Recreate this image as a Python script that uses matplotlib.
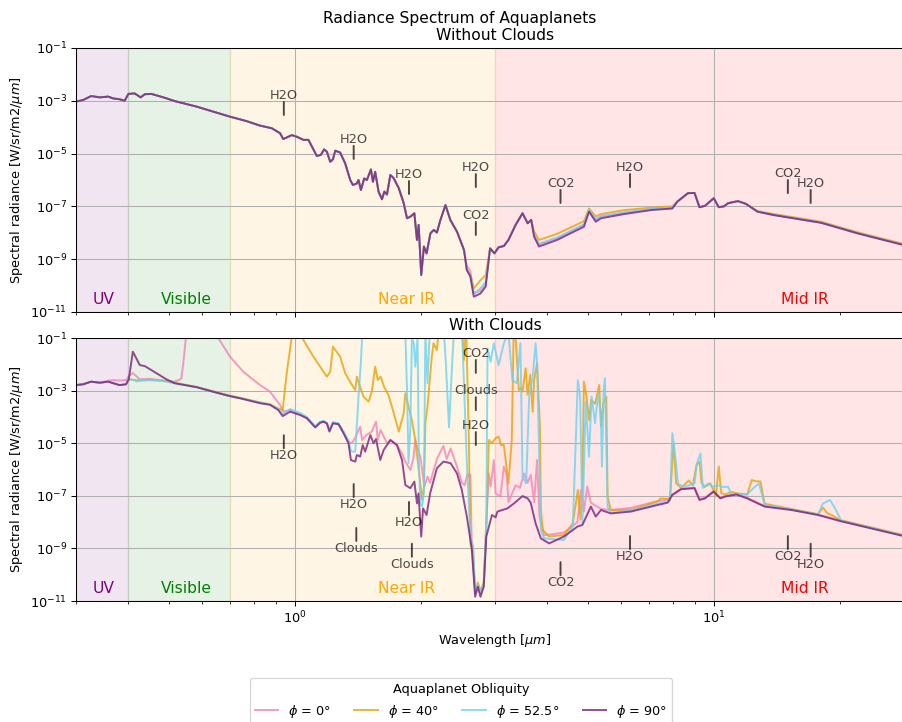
import numpy as np
import matplotlib.pyplot as plt

# (wavelength [um], log10 spectral radiance [W/sr/m2/um])
clear_phi0 = [
    (0.300, -3.03), (0.312, -2.97), (0.326, -2.82), (0.342, -2.87), (0.358, -2.84), (0.368, -2.91), (0.381, -2.94), (0.392, -3.00), (0.400, -2.74), (0.414, -2.72),
    (0.428, -2.87), (0.438, -2.75), (0.454, -2.74), (0.485, -2.87), (0.516, -3.01), (0.582, -3.22), (0.650, -3.45), (0.699, -3.60), (0.766, -3.77), (0.825, -3.94),
    (0.880, -4.04), (0.921, -4.23), (0.937, -4.45), (0.982, -4.30), (1.009, -4.36), (1.047, -4.48), (1.076, -4.48), (1.127, -5.09), (1.152, -5.05), (1.173, -4.84),
    (1.191, -4.93), (1.213, -5.31), (1.231, -5.22), (1.247, -4.89), (1.281, -4.96), (1.317, -5.37), (1.354, -6.00), (1.374, -6.19), (1.404, -6.13), (1.417, -6.00),
    (1.436, -6.38), (1.462, -5.94), (1.484, -6.00), (1.517, -5.60), (1.534, -6.07), (1.553, -5.69), (1.582, -6.44), (1.612, -6.73), (1.633, -6.44), (1.657, -6.55),
    (1.688, -5.81), (1.719, -5.93), (1.768, -6.31), (1.816, -6.82), (1.850, -7.45), (1.884, -7.39), (1.926, -7.26), (1.954, -8.27), (1.972, -7.70), (2.000, -9.60),
    (2.030, -8.52), (2.060, -8.78), (2.104, -8.02), (2.143, -7.89), (2.180, -7.99), (2.222, -7.52), (2.285, -6.95), (2.348, -7.52), (2.435, -7.96), (2.530, -8.65),
    (2.570, -9.25), (2.620, -9.45), (2.670, -10.30), (2.770, -10.20), (2.850, -9.95), (2.920, -8.59), (2.990, -8.78), (3.060, -8.55), (3.150, -8.50), (3.230, -8.27),
    (3.360, -7.70), (3.490, -7.26), (3.590, -7.64), (3.660, -7.51), (3.720, -8.08), (3.820, -8.44), (4.220, -8.20), (4.890, -7.70), (5.030, -7.15), (5.220, -7.50),
    (5.370, -7.38), (6.100, -7.24), (7.070, -7.10), (7.950, -7.05), (8.170, -6.82), (8.660, -6.50), (8.980, -6.49), (9.230, -7.03), (9.510, -6.98), (9.980, -6.69),
    (10.26, -7.03), (10.55, -7.00), (10.80, -6.88), (11.40, -6.80), (11.90, -6.90), (12.70, -7.20), (13.90, -7.33), (18.00, -7.62), (22.00, -8.02), (28.30, -8.46),
    (30.00, -8.56),
]
clear_phi40 = [
    (0.300, -3.03), (0.312, -2.97), (0.326, -2.82), (0.342, -2.87), (0.358, -2.84), (0.368, -2.91), (0.381, -2.94), (0.392, -3.00), (0.400, -2.74), (0.414, -2.72),
    (0.428, -2.87), (0.438, -2.75), (0.454, -2.74), (0.485, -2.87), (0.516, -3.01), (0.582, -3.22), (0.650, -3.45), (0.699, -3.60), (0.766, -3.77), (0.825, -3.94),
    (0.880, -4.04), (0.921, -4.23), (0.937, -4.45), (0.982, -4.30), (1.009, -4.36), (1.047, -4.48), (1.076, -4.48), (1.127, -5.09), (1.152, -5.05), (1.173, -4.84),
    (1.191, -4.93), (1.213, -5.31), (1.231, -5.22), (1.247, -4.89), (1.281, -4.96), (1.317, -5.37), (1.354, -6.00), (1.374, -6.19), (1.404, -6.13), (1.417, -6.00),
    (1.436, -6.38), (1.462, -5.94), (1.484, -6.00), (1.517, -5.60), (1.534, -6.07), (1.553, -5.69), (1.582, -6.44), (1.612, -6.73), (1.633, -6.44), (1.657, -6.55),
    (1.688, -5.81), (1.719, -5.93), (1.768, -6.31), (1.816, -6.88), (1.850, -7.45), (1.884, -7.39), (1.926, -7.26), (1.954, -8.27), (1.972, -7.70), (2.000, -9.60),
    (2.030, -8.52), (2.060, -8.78), (2.104, -8.02), (2.143, -7.89), (2.180, -7.99), (2.222, -7.52), (2.285, -6.95), (2.348, -7.52), (2.435, -7.96), (2.530, -8.65),
    (2.570, -9.41), (2.620, -9.60), (2.670, -10.10), (2.770, -9.80), (2.850, -9.60), (2.920, -8.59), (2.990, -8.78), (3.060, -8.55), (3.150, -8.50), (3.230, -8.27),
    (3.360, -7.70), (3.490, -7.26), (3.590, -7.64), (3.660, -7.51), (3.720, -7.95), (3.820, -8.27), (4.220, -8.04), (4.890, -7.56), (5.030, -7.08), (5.220, -7.38),
    (5.370, -7.29), (6.100, -7.14), (7.070, -7.05), (7.950, -7.00), (8.170, -6.82), (8.660, -6.50), (8.980, -6.49), (9.230, -7.03), (9.510, -6.98), (9.980, -6.69),
    (10.26, -7.03), (10.55, -7.00), (10.80, -6.88), (11.40, -6.80), (11.90, -6.90), (12.70, -7.18), (13.90, -7.29), (18.00, -7.58), (22.00, -7.98), (28.30, -8.42),
    (30.00, -8.52),
]
clear_phi525 = [
    (0.300, -3.03), (0.312, -2.97), (0.326, -2.82), (0.342, -2.87), (0.358, -2.84), (0.368, -2.91), (0.381, -2.94), (0.392, -3.00), (0.400, -2.74), (0.414, -2.72),
    (0.428, -2.87), (0.438, -2.75), (0.454, -2.74), (0.485, -2.87), (0.516, -3.01), (0.582, -3.22), (0.650, -3.45), (0.699, -3.60), (0.766, -3.77), (0.825, -3.94),
    (0.880, -4.04), (0.921, -4.23), (0.937, -4.45), (0.982, -4.30), (1.009, -4.36), (1.047, -4.48), (1.076, -4.48), (1.127, -5.09), (1.152, -5.05), (1.173, -4.84),
    (1.191, -4.93), (1.213, -5.31), (1.231, -5.22), (1.247, -4.89), (1.281, -4.96), (1.317, -5.37), (1.354, -6.00), (1.374, -6.19), (1.404, -6.13), (1.417, -6.00),
    (1.436, -6.38), (1.462, -5.94), (1.484, -6.00), (1.517, -5.60), (1.534, -6.07), (1.553, -5.69), (1.582, -6.44), (1.612, -6.73), (1.633, -6.44), (1.657, -6.55),
    (1.688, -5.81), (1.719, -5.93), (1.768, -6.31), (1.816, -6.88), (1.850, -7.45), (1.884, -7.39), (1.926, -7.26), (1.954, -8.27), (1.972, -7.70), (2.000, -9.60),
    (2.030, -8.52), (2.060, -8.78), (2.104, -8.02), (2.143, -7.89), (2.180, -7.99), (2.222, -7.52), (2.285, -6.95), (2.348, -7.52), (2.435, -7.96), (2.530, -8.65),
    (2.570, -9.41), (2.620, -9.62), (2.670, -10.30), (2.770, -10.10), (2.850, -9.85), (2.920, -8.59), (2.990, -8.78), (3.060, -8.55), (3.150, -8.50), (3.230, -8.27),
    (3.360, -7.70), (3.490, -7.26), (3.590, -7.64), (3.660, -7.51), (3.720, -8.08), (3.820, -8.42), (4.220, -8.18), (4.890, -7.68), (5.030, -7.13), (5.220, -7.50),
    (5.370, -7.37), (6.100, -7.23), (7.070, -7.10), (7.950, -7.04), (8.170, -6.82), (8.660, -6.50), (8.980, -6.49), (9.230, -7.03), (9.510, -6.98), (9.980, -6.69),
    (10.26, -7.03), (10.55, -7.00), (10.80, -6.88), (11.40, -6.80), (11.90, -6.90), (12.70, -7.20), (13.90, -7.32), (18.00, -7.61), (22.00, -8.01), (28.30, -8.45),
    (30.00, -8.55),
]
clear_phi90 = [
    (0.300, -3.03), (0.312, -2.97), (0.326, -2.82), (0.342, -2.87), (0.358, -2.84), (0.368, -2.91), (0.381, -2.94), (0.392, -3.00), (0.400, -2.74), (0.414, -2.72),
    (0.428, -2.87), (0.438, -2.75), (0.454, -2.74), (0.485, -2.87), (0.516, -3.01), (0.582, -3.22), (0.650, -3.45), (0.699, -3.60), (0.766, -3.77), (0.825, -3.94),
    (0.880, -4.04), (0.921, -4.23), (0.937, -4.45), (0.982, -4.30), (1.009, -4.36), (1.047, -4.48), (1.076, -4.48), (1.127, -5.09), (1.152, -5.05), (1.173, -4.84),
    (1.191, -4.93), (1.213, -5.31), (1.231, -5.22), (1.247, -4.89), (1.281, -4.96), (1.317, -5.37), (1.354, -6.00), (1.374, -6.19), (1.404, -6.13), (1.417, -6.00),
    (1.436, -6.38), (1.462, -5.94), (1.484, -6.00), (1.517, -5.60), (1.534, -6.07), (1.553, -5.69), (1.582, -6.44), (1.612, -6.73), (1.633, -6.44), (1.657, -6.55),
    (1.688, -5.81), (1.719, -5.93), (1.768, -6.31), (1.816, -6.88), (1.850, -7.45), (1.884, -7.39), (1.926, -7.26), (1.954, -8.27), (1.972, -7.70), (2.000, -9.60),
    (2.030, -8.52), (2.060, -8.78), (2.104, -8.02), (2.143, -7.89), (2.180, -7.99), (2.222, -7.52), (2.285, -6.95), (2.348, -7.52), (2.435, -7.96), (2.530, -8.65),
    (2.570, -9.41), (2.620, -9.66), (2.670, -10.42), (2.770, -10.30), (2.850, -10.04), (2.920, -8.59), (2.990, -8.78), (3.060, -8.55), (3.150, -8.50), (3.230, -8.27),
    (3.360, -7.70), (3.490, -7.26), (3.590, -7.64), (3.660, -7.51), (3.720, -8.15), (3.820, -8.52), (4.220, -8.27), (4.890, -7.77), (5.030, -7.20), (5.220, -7.58),
    (5.370, -7.45), (6.100, -7.29), (7.070, -7.14), (7.950, -7.08), (8.170, -6.82), (8.660, -6.50), (8.980, -6.49), (9.230, -7.03), (9.510, -6.98), (9.980, -6.69),
    (10.26, -7.03), (10.55, -7.00), (10.80, -6.88), (11.40, -6.80), (11.90, -6.90), (12.70, -7.20), (13.90, -7.33), (18.00, -7.62), (22.00, -8.02), (28.30, -8.46),
    (30.00, -8.56),
]

cloud_phi0 = [
    (0.300, -2.79), (0.312, -2.76), (0.326, -2.66), (0.342, -2.70), (0.358, -2.62), (0.370, -2.60), (0.381, -2.62), (0.395, -2.60), (0.401, -2.45), (0.410, -2.33),
    (0.426, -2.57), (0.450, -2.55), (0.485, -2.62), (0.516, -2.66), (0.535, -2.55), (0.541, -1.96), (0.548, -1.08), (0.570, 0.00), (0.640, 0.00), (0.650, -0.90),
    (0.699, -1.71), (0.752, -2.28), (0.825, -2.79), (0.871, -3.04), (0.921, -3.55), (0.937, -3.80), (0.973, -3.74), (1.028, -3.90), (1.067, -4.05), (1.117, -4.38),
    (1.148, -4.22), (1.169, -4.18), (1.191, -4.25), (1.208, -4.50), (1.231, -4.24), (1.270, -4.28), (1.305, -4.60), (1.341, -4.95), (1.366, -5.00), (1.390, -4.81),
    (1.430, -4.37), (1.445, -4.88), (1.480, -4.69), (1.524, -4.56), (1.560, -4.18), (1.575, -4.88), (1.600, -4.50), (1.657, -5.00), (1.688, -4.88), (1.750, -5.07),
    (1.800, -5.39), (1.833, -5.70), (1.884, -6.02), (1.915, -5.58), (1.936, -4.88), (1.960, -5.20), (1.990, -5.51), (2.035, -6.65), (2.070, -6.27), (2.100, -6.50),
    (2.180, -5.60), (2.260, -5.10), (2.300, -5.60), (2.350, -5.20), (2.435, -5.90), (2.500, -6.50), (2.540, -6.60), (2.580, -6.15), (2.600, -6.27), (2.620, -6.20),
    (2.640, -8.80), (2.690, -10.70), (2.730, -10.40), (2.770, -10.70), (2.820, -10.40), (2.860, -8.00), (2.900, -6.15), (2.930, -6.65), (2.980, -5.64), (3.010, -6.91),
    (3.090, -7.03), (3.150, -5.89), (3.200, -6.20), (3.230, -7.24), (3.360, -6.60), (3.440, -6.70), (3.520, -6.15), (3.590, -6.50), (3.650, -6.20), (3.720, -7.24),
    (3.780, -5.64), (3.830, -7.80), (3.930, -8.50), (4.380, -8.40), (4.720, -8.00), (4.810, -6.78), (4.890, -7.60), (4.980, -6.65), (5.080, -7.26), (5.370, -7.50),
    (5.670, -7.54), (6.330, -7.46), (7.330, -7.20), (7.750, -7.15), (7.950, -6.95), (8.340, -6.73), (8.980, -6.69), (9.230, -7.12), (9.510, -7.07), (9.980, -6.82),
    (10.35, -7.08), (10.62, -7.01), (11.30, -6.93), (12.00, -7.08), (13.20, -7.39), (15.30, -7.52), (17.70, -7.71), (20.10, -7.95), (28.30, -8.51), (30.00, -8.60),
]
cloud_phi40 = [
    (0.300, -2.79), (0.312, -2.76), (0.326, -2.66), (0.342, -2.70), (0.358, -2.66), (0.370, -2.73), (0.381, -2.79), (0.395, -2.76), (0.401, -2.57), (0.410, -2.59),
    (0.426, -2.62), (0.450, -2.60), (0.485, -2.62), (0.516, -2.70), (0.582, -2.86), (0.650, -3.06), (0.699, -3.19), (0.738, -3.27), (0.825, -3.45), (0.871, -3.52),
    (0.912, -3.68), (0.934, -3.74), (0.955, -2.34), (0.985, -0.80), (1.020, 0.00), (1.047, -1.08), (1.106, -1.71), (1.169, -2.28), (1.191, -2.47), (1.213, -2.28),
    (1.231, -1.33), (1.281, -1.71), (1.317, -2.34), (1.359, -2.72), (1.392, -2.98), (1.404, -2.47), (1.430, -2.85), (1.456, -3.23), (1.498, -3.42), (1.524, -3.04),
    (1.553, -2.09), (1.575, -2.60), (1.600, -2.47), (1.630, -2.85), (1.670, -3.16), (1.720, -3.86), (1.768, -4.56), (1.816, -3.86), (1.833, -3.10), (1.865, -3.61),
    (1.900, -4.12), (1.936, -4.88), (1.965, -5.76), (1.990, -6.53), (2.010, -7.16), (2.030, -6.65), (2.046, -4.24), (2.070, -3.61), (2.090, -2.85), (2.120, -1.71),
    (2.140, -1.20), (2.180, -1.46), (2.200, -0.80), (2.300, 0.00), (2.500, -0.50), (2.530, -1.84), (2.560, -0.50), (2.600, -5.00), (2.620, -8.81), (2.660, -9.20),
    (2.690, -10.60), (2.730, -10.30), (2.770, -10.60), (2.820, -10.30), (2.860, -8.30), (2.900, -4.88), (2.950, -5.00), (3.010, -4.81), (3.060, -4.75), (3.100, -5.07),
    (3.150, -5.07), (3.230, -6.53), (3.290, -4.88), (3.330, 0.00), (3.390, -1.96), (3.420, -2.98), (3.460, -2.90), (3.490, -3.04), (3.550, -2.15), (3.590, -3.16),
    (3.640, -2.40), (3.690, -3.80), (3.720, -2.60), (3.780, -1.96), (3.840, -4.37), (3.860, -7.54), (3.900, -8.30), (4.040, -8.55), (4.380, -8.49), (4.600, -8.05),
    (4.730, -6.78), (4.800, -7.90), (4.850, -6.70), (4.890, -2.66), (4.960, -3.23), (5.030, -4.12), (5.090, -3.36), (5.200, -3.50), (5.320, -2.79), (5.370, -4.37),
    (5.440, -3.48), (5.530, -3.23), (5.570, -7.03), (5.670, -7.54), (6.330, -7.54), (7.330, -7.22), (7.450, -7.10), (7.850, -7.12), (8.000, -5.00), (8.120, -6.53),
    (8.340, -6.70), (8.700, -6.42), (8.900, -6.60), (9.080, -5.83), (9.230, -5.70), (9.330, -6.50), (9.500, -6.66), (9.800, -6.53), (10.10, -7.00), (10.26, -5.89),
    (10.40, -6.90), (10.62, -6.95), (11.00, -6.85), (11.30, -6.90), (12.00, -6.95), (12.30, -6.40), (12.60, -6.45), (12.90, -6.45), (13.20, -7.30), (15.30, -7.50),
    (17.70, -7.70), (18.20, -7.45), (18.60, -7.65), (20.10, -7.93), (28.30, -8.49), (30.00, -8.58),
]
cloud_phi525 = [
    (0.300, -2.79), (0.312, -2.76), (0.326, -2.66), (0.342, -2.70), (0.358, -2.66), (0.370, -2.73), (0.381, -2.79), (0.395, -2.76), (0.401, -2.57), (0.410, -2.59),
    (0.420, -2.65), (0.426, -2.60), (0.450, -2.60), (0.485, -2.64), (0.516, -2.72), (0.582, -2.87), (0.650, -3.08), (0.699, -3.21), (0.738, -3.29), (0.825, -3.46),
    (0.871, -3.52), (0.912, -3.70), (0.934, -3.90), (0.973, -3.70), (1.028, -3.85), (1.067, -4.00), (1.117, -4.35), (1.148, -4.18), (1.169, -4.15), (1.191, -4.22),
    (1.208, -4.50), (1.231, -4.20), (1.270, -4.24), (1.305, -4.55), (1.341, -4.90), (1.360, -5.32), (1.392, -5.32), (1.417, -3.23), (1.436, -1.90), (1.450, -0.50),
    (1.830, -0.50), (1.850, -2.98), (1.865, -5.76), (1.884, -4.40), (1.900, -1.00), (1.920, -1.20), (1.936, -2.09), (1.960, -1.00), (1.975, -5.76), (1.990, -7.29),
    (2.010, -7.40), (2.030, -6.91), (2.046, -0.80), (2.070, -2.72), (2.100, -0.50), (2.260, -0.50), (2.290, -1.95), (2.330, -4.40), (2.370, -2.00), (2.400, -0.50),
    (2.500, -0.50), (2.570, -5.76), (2.620, -8.55), (2.660, -8.90), (2.690, -10.70), (2.730, -10.35), (2.770, -10.70), (2.820, -10.35), (2.860, -8.00), (2.880, -1.40),
    (2.930, -1.90), (2.980, -1.20), (3.060, -2.03), (3.150, -1.20), (3.230, -0.80), (3.300, -2.60), (3.380, -2.72), (3.450, -1.20), (3.490, -6.27), (3.560, -6.53),
    (3.620, -3.23), (3.690, -2.47), (3.750, -1.20), (3.780, -1.96), (3.860, -8.30), (3.930, -8.62), (4.380, -8.68), (4.600, -8.17), (4.730, -2.60), (4.790, -3.23),
    (4.850, -8.05), (4.940, -3.42), (5.030, -5.51), (5.100, -3.23), (5.200, -4.24), (5.290, -3.10), (5.370, -3.99), (5.400, -5.89), (5.450, -2.98), (5.490, -2.53),
    (5.570, -7.41), (5.670, -7.64), (6.330, -7.57), (7.330, -7.30), (7.850, -7.20), (7.950, -4.62), (8.050, -5.26), (8.200, -6.53), (8.450, -6.66), (8.700, -6.60),
    (8.980, -6.53), (9.100, -5.77), (9.280, -5.39), (9.400, -6.70), (9.700, -6.53), (9.900, -6.66), (10.20, -6.60), (10.50, -6.66), (10.80, -6.66), (11.00, -6.95),
    (12.00, -6.95), (12.50, -6.66), (12.80, -6.53), (13.20, -7.35), (15.30, -7.52), (17.70, -7.71), (18.20, -7.29), (18.90, -7.16), (19.40, -7.45), (19.90, -7.79),
    (20.10, -7.95), (28.30, -8.51), (30.00, -8.60),
]
cloud_phi90 = [
    (0.300, -2.79), (0.312, -2.76), (0.326, -2.66), (0.342, -2.70), (0.358, -2.66), (0.370, -2.73), (0.381, -2.79), (0.395, -2.76), (0.401, -2.57), (0.410, -1.52),
    (0.426, -2.03), (0.438, -2.07), (0.467, -2.34), (0.493, -2.57), (0.516, -2.72), (0.582, -2.87), (0.650, -3.08), (0.699, -3.21), (0.738, -3.29), (0.825, -3.48),
    (0.871, -3.54), (0.912, -3.74), (0.934, -3.97), (0.973, -3.80), (1.028, -3.93), (1.067, -4.05), (1.117, -4.40), (1.148, -4.22), (1.169, -4.18), (1.191, -4.25),
    (1.208, -4.56), (1.231, -4.24), (1.270, -4.28), (1.305, -4.62), (1.341, -5.00), (1.359, -5.64), (1.392, -5.70), (1.404, -5.45), (1.430, -5.51), (1.450, -5.07),
    (1.470, -5.32), (1.512, -4.69), (1.539, -5.00), (1.560, -4.84), (1.597, -5.64), (1.627, -5.26), (1.657, -5.07), (1.688, -4.88), (1.750, -5.07), (1.800, -5.64),
    (1.833, -6.59), (1.884, -6.71), (1.926, -6.46), (1.954, -7.29), (1.970, -6.91), (2.000, -8.55), (2.020, -7.48), (2.060, -7.73), (2.100, -6.91), (2.180, -5.95),
    (2.260, -5.70), (2.350, -5.76), (2.435, -6.15), (2.500, -6.78), (2.570, -7.79), (2.640, -9.00), (2.690, -10.84), (2.730, -10.46), (2.770, -10.84), (2.820, -10.46),
    (2.860, -8.55), (2.950, -7.73), (3.010, -7.82), (3.040, -7.60), (3.210, -7.48), (3.330, -7.29), (3.490, -7.01), (3.590, -7.10), (3.650, -7.26), (3.750, -8.05),
    (3.860, -8.62), (4.040, -8.81), (4.380, -8.55), (4.720, -8.17), (4.850, -8.11), (5.080, -7.41), (5.220, -7.79), (5.370, -7.54), (5.670, -7.67), (6.330, -7.60),
    (7.330, -7.35), (7.750, -7.26), (7.950, -6.97), (8.340, -6.75), (8.980, -6.71), (9.230, -7.16), (9.510, -7.10), (9.980, -6.84), (10.35, -7.10), (10.62, -7.03),
    (11.30, -6.95), (12.00, -7.10), (13.20, -7.41), (15.30, -7.54), (17.70, -7.73), (20.10, -7.97), (28.30, -8.53), (30.00, -8.62),
]

series_labels = ['$\\phi$ = 0°', '$\\phi$ = 40°', '$\\phi$ = 52.5°', '$\\phi$ = 90°']
series_colors = ['#f582b5', '#eca100', '#69d3f5', '#7c1e7c']

band_names = ['UV', 'Visible', 'Near IR', 'Mid IR']
band_edges = [(0.3, 0.4), (0.4, 0.7), (0.7, 3.0), (3.0, 30.0)]
band_colors = ['purple', 'green', 'orange', 'red']

# absorber labels: text, wavelength, radiance at the end of the tick
clear_feat_text = ['H2O', 'H2O', 'H2O', 'H2O', 'CO2', 'CO2', 'H2O', 'CO2', 'H2O']
clear_feat_wl = [0.94, 1.38, 1.87, 2.7, 2.7, 4.3, 6.3, 15, 17]
clear_feat_y = [2.9e-4, 6.3e-6, 2.95e-7, 5.4e-7, 8.3e-9, 1.35e-7, 5.4e-7, 3.2e-7, 1.35e-7]

cloud_up_text = ['CO2', 'Clouds', 'H2O']
cloud_up_wl = [2.7, 2.7, 2.7]
cloud_up_y = [4.7e-3, 1.8e-4, 8.5e-6]
cloud_down_text = ['H2O', 'H2O', 'Clouds', 'H2O', 'Clouds', 'CO2', 'H2O', 'CO2', 'H2O']
cloud_down_wl = [0.94, 1.38, 1.4, 1.87, 1.9, 4.3, 6.3, 15, 17]
cloud_down_y = [2.0e-5, 2.8e-7, 6.0e-9, 5.8e-8, 1.5e-9, 3.0e-10, 2.95e-9, 2.95e-9, 1.5e-9]

DPI = 93
fig = plt.figure(figsize=(902 / DPI, 722 / DPI), dpi=DPI)
ax1 = fig.add_axes([76 / 902, 1 - 312 / 722, 838 / 902, 264 / 722])
ax2 = fig.add_axes([76 / 902, 1 - 601 / 722, 838 / 902, 263 / 722], sharex=ax1)


def draw(ax, series):
    for (lo, hi), name, c in zip(band_edges, band_names, band_colors):
        ax.axvspan(lo, hi, color=c, alpha=0.1)
        ax.text((lo + hi) / 2, 2e-11, name, color=c, ha='center', fontsize=12)
    for pts, lab, c in zip(series, series_labels, series_colors):
        wl, lg = zip(*pts)
        ax.plot(wl, 10.0 ** np.array(lg), color=c, lw=1.5, alpha=0.8, label=lab)
    ax.set_xscale('log')
    ax.set_yscale('log')
    ax.set_xlim(0.3, 30)
    ax.set_ylim(1e-11, 1e-1)
    ax.grid(True)
    ax.set_ylabel('Spectral radiance [W/sr/m2/$\\mu m$]')


def mark(ax, text, w, y, up=True):
    # short tick at (w, y) with the label above (up) or below it
    sign = 1 if up else -1
    tick = dict(arrowstyle='-', lw=1.5, color='k', alpha=0.7, shrinkA=0, shrinkB=0)
    ax.annotate('', xy=(w, y), xytext=(0, 13 * sign), textcoords='offset pixels', arrowprops=tick)
    ax.annotate(text, xy=(w, y), xytext=(0, 16 * sign if up else -14), textcoords='offset pixels',
                ha='center', va='baseline' if up else 'top', color='k', alpha=0.7)


draw(ax1, [clear_phi0, clear_phi40, clear_phi525, clear_phi90])
draw(ax2, [cloud_phi0, cloud_phi40, cloud_phi525, cloud_phi90])

for t, w, y in zip(clear_feat_text, clear_feat_wl, clear_feat_y):
    mark(ax1, t, w, y)
for t, w, y in zip(cloud_up_text, cloud_up_wl, cloud_up_y):
    mark(ax2, t, w, y)
for t, w, y in zip(cloud_down_text, cloud_down_wl, cloud_down_y):
    mark(ax2, t, w, y, up=False)

ax1.tick_params(labelbottom=False)
ax1.set_title('Without Clouds')
ax2.set_title('With Clouds')
ax2.set_xlabel('Wavelength [$\\mu m$]')
fig.suptitle('Radiance Spectrum of Aquaplanets', x=460 / 902, y=1 - 19 / 722, va='center')

handles, labels = ax2.get_legend_handles_labels()
fig.legend(handles, labels, title='Aquaplanet Obliquity', ncol=4, loc='upper center',
           bbox_to_anchor=(461 / 902, 1 - 678 / 722), borderaxespad=0,
           handlelength=1.8, columnspacing=1.8)

fig.savefig('out.png', dpi=DPI)
